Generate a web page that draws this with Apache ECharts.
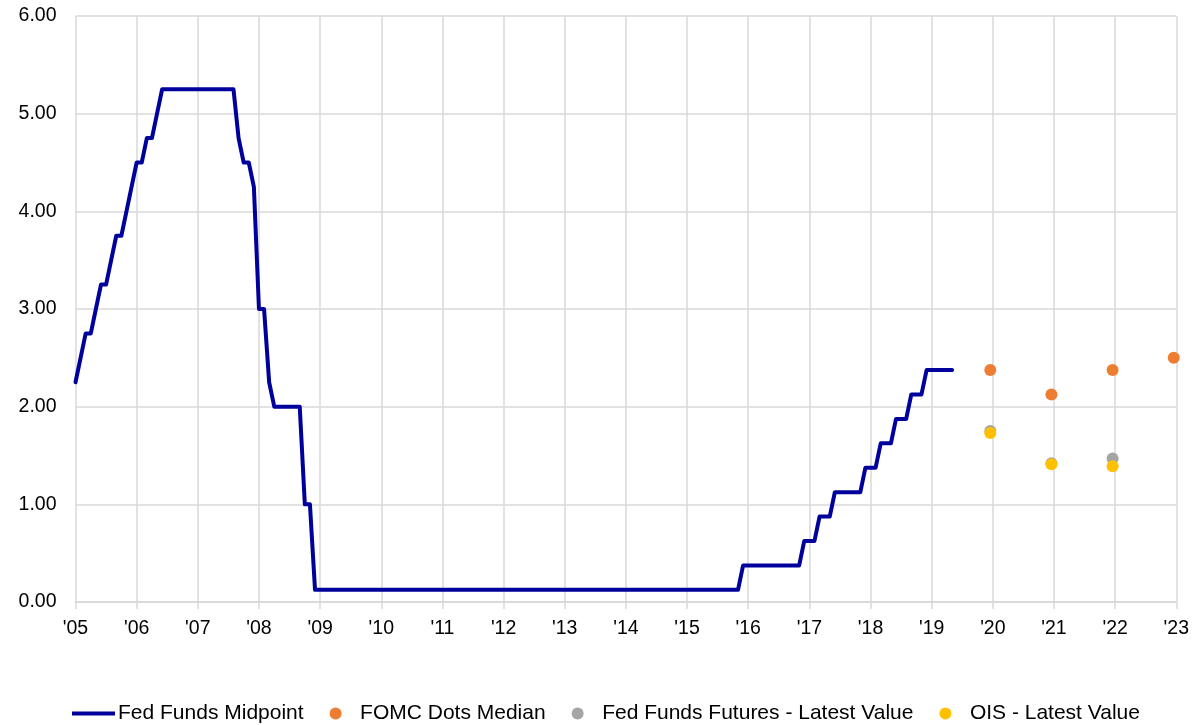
<!DOCTYPE html>
<html>
<head>
<meta charset="utf-8">
<script src="https://cdn.jsdelivr.net/npm/echarts@6/dist/echarts.min.js"></script>
<style>
    html, body { margin: 0; padding: 0; background: #fff; }
    #chart { width: 1195px; height: 725px; }
</style>
</head>
<body>
<div id="chart"></div>
<script>
// monthly Fed Funds target midpoint, Jan 2005 .. May 2019
const startYear = 2005;
const fedFundsMid = [
    2.25, 2.50, 2.75, 2.75, 3.00, 3.25, 3.25, 3.50, 3.75, 3.75, 4.00, 4.25, // 2005
    4.50, 4.50, 4.75, 4.75, 5.00, 5.25, 5.25, 5.25, 5.25, 5.25, 5.25, 5.25, // 2006
    5.25, 5.25, 5.25, 5.25, 5.25, 5.25, 5.25, 5.25, 4.75, 4.50, 4.50, 4.25, // 2007
    3.00, 3.00, 2.25, 2.00, 2.00, 2.00, 2.00, 2.00, 2.00, 1.00, 1.00, 0.125, // 2008
    0.125, 0.125, 0.125, 0.125, 0.125, 0.125, 0.125, 0.125, 0.125, 0.125, 0.125, 0.125, // 2009
    0.125, 0.125, 0.125, 0.125, 0.125, 0.125, 0.125, 0.125, 0.125, 0.125, 0.125, 0.125, // 2010
    0.125, 0.125, 0.125, 0.125, 0.125, 0.125, 0.125, 0.125, 0.125, 0.125, 0.125, 0.125, // 2011
    0.125, 0.125, 0.125, 0.125, 0.125, 0.125, 0.125, 0.125, 0.125, 0.125, 0.125, 0.125, // 2012
    0.125, 0.125, 0.125, 0.125, 0.125, 0.125, 0.125, 0.125, 0.125, 0.125, 0.125, 0.125, // 2013
    0.125, 0.125, 0.125, 0.125, 0.125, 0.125, 0.125, 0.125, 0.125, 0.125, 0.125, 0.125, // 2014
    0.125, 0.125, 0.125, 0.125, 0.125, 0.125, 0.125, 0.125, 0.125, 0.125, 0.125, 0.375, // 2015
    0.375, 0.375, 0.375, 0.375, 0.375, 0.375, 0.375, 0.375, 0.375, 0.375, 0.375, 0.625, // 2016
    0.625, 0.625, 0.875, 0.875, 0.875, 1.125, 1.125, 1.125, 1.125, 1.125, 1.125, 1.375, // 2017
    1.375, 1.375, 1.625, 1.625, 1.625, 1.875, 1.875, 1.875, 2.125, 2.125, 2.125, 2.375, // 2018
    2.375, 2.375, 2.375, 2.375, 2.375                                                  // 2019
];

// projections, placed at mid-December of each year
const projYears = [2019, 2020, 2021, 2022];
const fomcDots = [2.375, 2.125, 2.375, 2.50];
const futures = [1.75, 1.42, 1.47, null];
const ois = [1.73, 1.41, 1.39, null];

const yTicks = ['0.00', '1.00', '2.00', '3.00', '4.00', '5.00', '6.00'];

const font = 'Liberation Sans, Arial, sans-serif';
const gridColor = '#d9d9d9';
const navy = '#00009c';

const lineData = fedFundsMid.map((v, i) => [startYear + i / 12, v]);
const toPoints = (vals) => projYears
    .map((y, i) => [y + 11.5 / 12, vals[i]])
    .filter((p) => p[1] != null);

const chart = echarts.init(document.getElementById('chart'));

chart.setOption({
    animation: false,
    grid: {
        left: 75.5,
        right: 18.7,
        top: 16,
        bottom: 123,
        containLabel: false
    },
    legend: {
        top: 698,
        left: 67,
        itemWidth: 43,
        itemHeight: 12,
        itemGap: 26,
        textStyle: {
            fontFamily: font,
            fontSize: 21,
            color: '#000',
            padding: [0, 0, 0, -2]
        },
        data: [
            {
                name: 'Fed Funds Midpoint',
                icon: 'path://M0,0 L43,0 L43,4 L0,4 Z',
                itemStyle: { color: navy }
            },
            { name: 'FOMC Dots Median', icon: 'circle' },
            { name: 'Fed Funds Futures - Latest Value', icon: 'circle' },
            { name: 'OIS - Latest Value', icon: 'circle' }
        ]
    },
    xAxis: {
        type: 'value',
        min: 2005,
        max: 2023,
        interval: 1,
        axisLine: {
            show: true,
            lineStyle: { color: gridColor, width: 1.5 }
        },
        axisTick: {
            show: true,
            length: 7,
            lineStyle: { color: gridColor, width: 1.5 }
        },
        axisLabel: {
            fontFamily: font,
            fontSize: 19.5,
            color: '#000',
            margin: 17,
            formatter: (v) => "'" + String(v).slice(2)
        },
        splitLine: {
            show: true,
            lineStyle: { color: gridColor, width: 1.5 }
        }
    },
    yAxis: {
        type: 'value',
        min: 0,
        max: 6,
        interval: 1,
        axisLine: { show: false },
        axisTick: { show: false },
        axisLabel: {
            fontFamily: font,
            fontSize: 19.5,
            color: '#000',
            margin: 19,
            formatter: (v) => yTicks[v]
        },
        splitLine: {
            show: true,
            lineStyle: { color: gridColor, width: 1.5 }
        }
    },
    series: [
        {
            name: 'Fed Funds Midpoint',
            type: 'line',
            data: lineData,
            showSymbol: false,
            symbol: 'none',
            color: navy,
            lineStyle: { width: 4, color: navy, cap: 'round', join: 'round' }
        },
        {
            name: 'FOMC Dots Median',
            type: 'scatter',
            data: toPoints(fomcDots),
            symbolSize: 12,
            itemStyle: { color: '#ed7d31', opacity: 1 }
        },
        {
            name: 'Fed Funds Futures - Latest Value',
            type: 'scatter',
            data: toPoints(futures),
            symbolSize: 12,
            itemStyle: { color: '#a5a5a5', opacity: 1 }
        },
        {
            name: 'OIS - Latest Value',
            type: 'scatter',
            data: toPoints(ois),
            symbolSize: 12,
            itemStyle: { color: '#ffc000', opacity: 1 }
        }
    ]
});
</script>
</body>
</html>
